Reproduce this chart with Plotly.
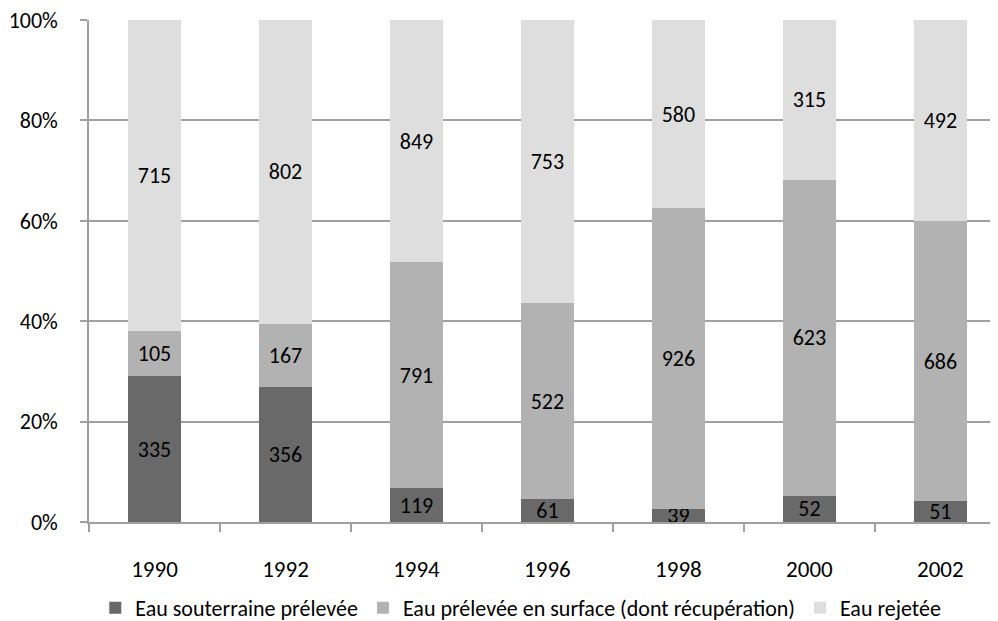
import plotly.graph_objects as go

years = ["1990", "1992", "1994", "1996", "1998", "2000", "2002"]
souterraine = [335, 356, 119, 61, 39, 52, 51]
surface = [105, 167, 791, 522, 926, 623, 686]
rejetee = [715, 802, 849, 753, 580, 315, 492]

series = [
    ("Eau souterraine prélevée", souterraine, "#696969"),
    ("Eau prélevée en surface (dont récupération)", surface, "#b2b2b2"),
    ("Eau rejetée", rejetee, "#dedede"),
]

FONT = "Calibri, Carlito, Lato, sans-serif"
FS = 22
xpos = list(range(len(years)))

fig = go.Figure()
for name, vals, color in series:
    fig.add_trace(go.Bar(
        x=xpos, y=vals, name=name, marker=dict(color=color, line=dict(width=0)),
        width=0.41, text=[str(v) for v in vals], textposition="inside",
        insidetextanchor="middle", textangle=0,
        textfont=dict(family=FONT, size=FS, color="black"),
        hoverinfo="skip",
    ))

fig.update_layout(
    barmode="stack", barnorm="percent",
    width=990, height=613,
    margin=dict(l=81, r=0, t=12, b=99, autoexpand=False),
    plot_bgcolor="white", paper_bgcolor="white",
    font=dict(family=FONT, size=FS, color="black"),
    uniformtext=dict(minsize=FS, mode="show"),
    legend=dict(orientation="h", x=0.475, xanchor="center", y=-0.171, yanchor="middle",
                bgcolor="rgba(0,0,0,0)",
                font=dict(family=FONT, size=22, color="black"), traceorder="normal",
                itemwidth=30, tracegroupgap=0),
    xaxis=dict(
        range=[-0.5, 6.44], tickvals=xpos, ticktext=years,
        ticks="outside", ticklen=26, tickcolor="rgba(0,0,0,0)",
        showline=True, linecolor="#a0a0a0", linewidth=1.5,
        showgrid=False, zeroline=False, automargin=False,
        minor=dict(tick0=-0.5, dtick=1, ticks="outside", ticklen=8,
                   tickcolor="#a0a0a0", tickwidth=1.5, showgrid=False),
        tickfont=dict(family=FONT, size=23, color="black"),
    ),
    yaxis=dict(
        range=[0, 100], tickvals=[0, 20, 40, 60, 80, 100],
        ticktext=["0%", "20%", "40%", "60%", "80%", "100%"],
        ticks="outside", ticklen=7, tickcolor="#a0a0a0", tickwidth=1.5,
        ticklabelstandoff=18, automargin=False, ticklabeloverflow="allow",
        showline=True, linecolor="#a0a0a0", linewidth=1.5,
        showgrid=True, gridcolor="#a0a0a0", gridwidth=1.5, zeroline=False,
        tickfont=dict(family=FONT, size=FS, color="black"),
    ),
)

fig.write_html("out.html")
